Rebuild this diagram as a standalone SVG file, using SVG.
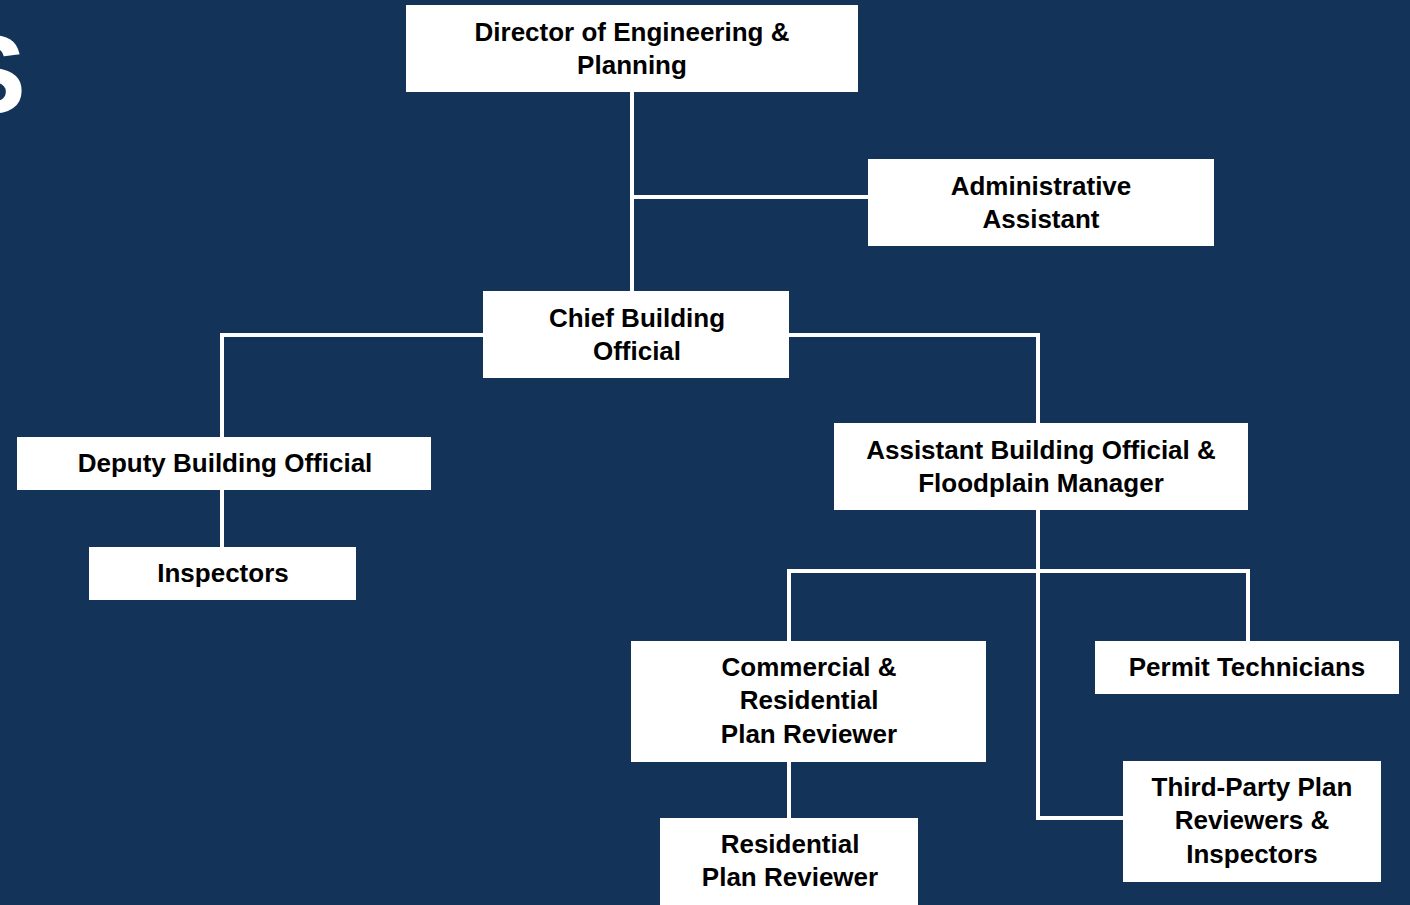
<svg xmlns="http://www.w3.org/2000/svg" width="1410" height="905" viewBox="0 0 1410 905">
<style>
.bg{fill:#143359}
.box{fill:#ffffff}
.t{font-family:"Liberation Sans",Arial,sans-serif;font-weight:bold;font-size:26px;fill:#000000;text-anchor:middle}
.ln{stroke:#ffffff;stroke-width:4;fill:none}
.big{font-family:"Liberation Sans",Arial,sans-serif;font-weight:bold;font-size:112px;fill:#ffffff;text-anchor:end}
</style>
<rect class="bg" x="0" y="0" width="1410" height="905"/>
<text class="big" x="26" y="113">S</text>
<g id="connectors">
<path class="ln" d="M632 92V291"/>
<path class="ln" d="M632 197H868"/>
<path class="ln" d="M483 335H222V437"/>
<path class="ln" d="M789 335H1038V423"/>
<path class="ln" d="M222 490V547"/>
<path class="ln" d="M1038 510V818H1123"/>
<path class="ln" d="M789 641V571H1248V641"/>
<path class="ln" d="M789 762V818"/>
</g>
<g id="director">
<rect class="box" x="406" y="5" width="452" height="87"/>
<text class="t" x="632" y="41">Director of Engineering &amp;</text>
<text class="t" x="632" y="74">Planning</text>
</g>
<g id="admin">
<rect class="box" x="868" y="159" width="346" height="87"/>
<text class="t" x="1041" y="195">Administrative</text>
<text class="t" x="1041" y="228">Assistant</text>
</g>
<g id="chief">
<rect class="box" x="483" y="291" width="306" height="87"/>
<text class="t" x="637" y="327">Chief Building</text>
<text class="t" x="637" y="360">Official</text>
</g>
<g id="deputy">
<rect class="box" x="17" y="437" width="414" height="53"/>
<text class="t" x="225" y="472">Deputy Building Official</text>
</g>
<g id="inspectors">
<rect class="box" x="89" y="547" width="267" height="53"/>
<text class="t" x="223" y="582">Inspectors</text>
</g>
<g id="assistant">
<rect class="box" x="834" y="423" width="414" height="87"/>
<text class="t" x="1041" y="459">Assistant Building Official &amp;</text>
<text class="t" x="1041" y="492">Floodplain Manager</text>
</g>
<g id="commercial">
<rect class="box" x="631" y="641" width="355" height="121"/>
<text class="t" x="809" y="676">Commercial &amp;</text>
<text class="t" x="809" y="709">Residential</text>
<text class="t" x="809" y="743">Plan Reviewer</text>
</g>
<g id="permit">
<rect class="box" x="1095" y="641" width="304" height="53"/>
<text class="t" x="1247" y="676">Permit Technicians</text>
</g>
<g id="thirdparty">
<rect class="box" x="1123" y="761" width="258" height="121"/>
<text class="t" x="1252" y="796">Third-Party Plan</text>
<text class="t" x="1252" y="829">Reviewers &amp;</text>
<text class="t" x="1252" y="863">Inspectors</text>
</g>
<g id="residential">
<rect class="box" x="660" y="818" width="258" height="90"/>
<text class="t" x="790" y="853">Residential</text>
<text class="t" x="790" y="886">Plan Reviewer</text>
</g>
</svg>
